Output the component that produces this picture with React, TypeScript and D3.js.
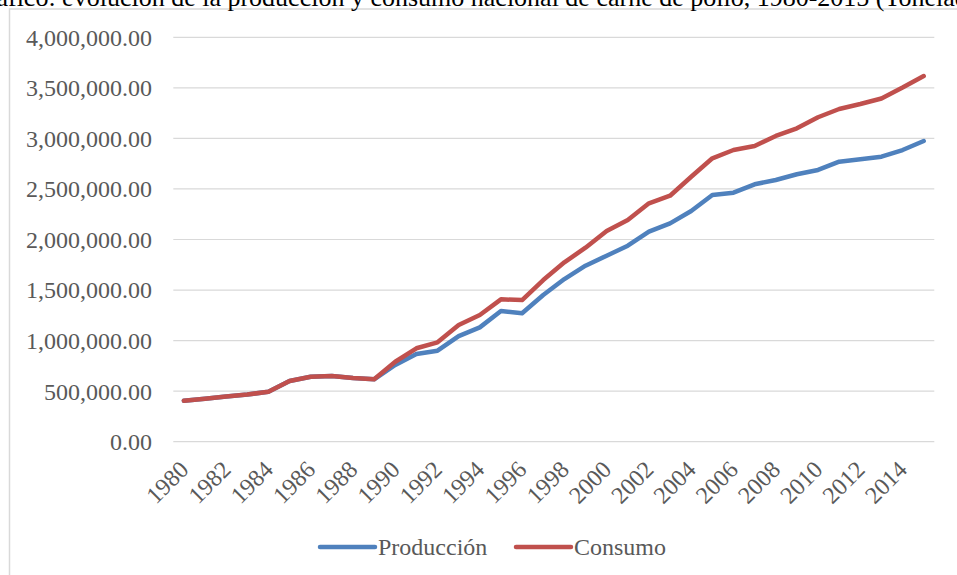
import React from "react";
import * as d3 from "d3";

const years: number[] = [
  1980, 1981, 1982, 1983, 1984, 1985, 1986, 1987, 1988, 1989,
  1990, 1991, 1992, 1993, 1994, 1995, 1996, 1997, 1998, 1999,
  2000, 2001, 2002, 2003, 2004, 2005, 2006, 2007, 2008, 2009,
  2010, 2011, 2012, 2013, 2014, 2015,
];

const produccion: number[] = [
  405000, 425000, 447000, 467000, 494000, 600000, 643000, 650000, 630000, 617000,
  759000, 867000, 900000, 1045000, 1131000, 1293000, 1270000, 1451000, 1609000, 1741000,
  1840000, 1939000, 2077000, 2160000, 2282000, 2440000, 2463000, 2546000, 2589000, 2645000,
  2688000, 2770000, 2793000, 2819000, 2885000, 2974000,
];

const consumo: number[] = [
  405000, 425000, 447000, 467000, 494000, 600000, 643000, 650000, 630000, 617000,
  791000, 924000, 983000, 1154000, 1253000, 1408000, 1401000, 1599000, 1774000, 1919000,
  2084000, 2193000, 2358000, 2433000, 2621000, 2803000, 2885000, 2925000, 3024000, 3100000,
  3209000, 3291000, 3340000, 3395000, 3503000, 3617000,
];

const yTicks: number[] = [0, 500000, 1000000, 1500000, 2000000, 2500000, 3000000, 3500000, 4000000];
const xLabelYears: number[] = years.filter((y) => (y - 1980) % 2 === 0 && y <= 2014);

const seriesNames = ["Producción", "Consumo"];
const seriesColors = ["#4f81bd", "#c0504d"];
const title = "Gráfico: evolución de la producción y consumo nacional de carne de pollo, 1980-2015 (Toneladas)";

const W = 957;
const H = 575;
const FONT = "'Liberation Serif', 'Times New Roman', serif";
const TEXT = "#595959";

export default function App() {
  const x = d3.scaleBand<number>().domain(years).range([173.3, 934.3]).paddingInner(0).paddingOuter(0);
  const y = d3.scaleLinear().domain([0, 4000000]).range([441.7, 37.3]);
  const cx = (yr: number) => (x(yr) as number) + x.bandwidth() / 2;
  const fmt = d3.format(",.2f");

  const line = d3
    .line<number>()
    .x((_, i) => cx(years[i]))
    .y((v) => y(v));

  const allSeries = [produccion, consumo];

  return (
    <svg
      width={W}
      height={H}
      style={{ position: "absolute", left: 0, top: 0, background: "#fff" }}
      fontFamily={FONT}
    >
      <rect x={0} y={0} width={W} height={H} fill="#fff" />
      {/* chart frame */}
      <rect x={9.5} y={9} width={W + 10} height={H + 10} fill="none" stroke="#d9d9d9" strokeWidth={1.5} />
      {/* title, cut off at top in the reference */}
      <text x={-31} y={6} fontSize={26} fill="#000">
        {title}
      </text>
      {/* gridlines */}
      {yTicks.map((t) => (
        <line key={t} x1={173.3} x2={934.3} y1={y(t)} y2={y(t)} stroke="#d9d9d9" strokeWidth={1.2} />
      ))}
      {/* y labels */}
      {yTicks.map((t) => (
        <text key={"l" + t} x={152} y={y(t)} dy="0.35em" textAnchor="end" fontSize={24} fill={TEXT}>
          {fmt(t)}
        </text>
      ))}
      {/* x labels */}
      {xLabelYears.map((yr) => {
        const px = cx(yr) + 6;
        const py = 471;
        return (
          <text
            key={"x" + yr}
            x={px}
            y={py}
            textAnchor="end"
            fontSize={24}
            fill={TEXT}
            transform={`rotate(-45 ${px} ${py})`}
          >
            {yr}
          </text>
        );
      })}
      {/* lines */}
      {allSeries.map((s, i) => (
        <path
          key={"s" + i}
          d={line(s) as string}
          fill="none"
          stroke={seriesColors[i]}
          strokeWidth={4.5}
          strokeLinejoin="round"
          strokeLinecap="round"
        />
      ))}
      {/* legend */}
      {seriesNames.map((n, i) => {
        const lx = i === 0 ? 320 : 516;
        const ly = 547;
        return (
          <g key={"lg" + i}>
            <line x1={lx} x2={lx + 55} y1={ly} y2={ly} stroke={seriesColors[i]} strokeWidth={4.5} strokeLinecap="round" />
            <text x={lx + 58} y={ly} dy="0.35em" fontSize={24} fill={TEXT}>
              {n}
            </text>
          </g>
        );
      })}
    </svg>
  );
}
